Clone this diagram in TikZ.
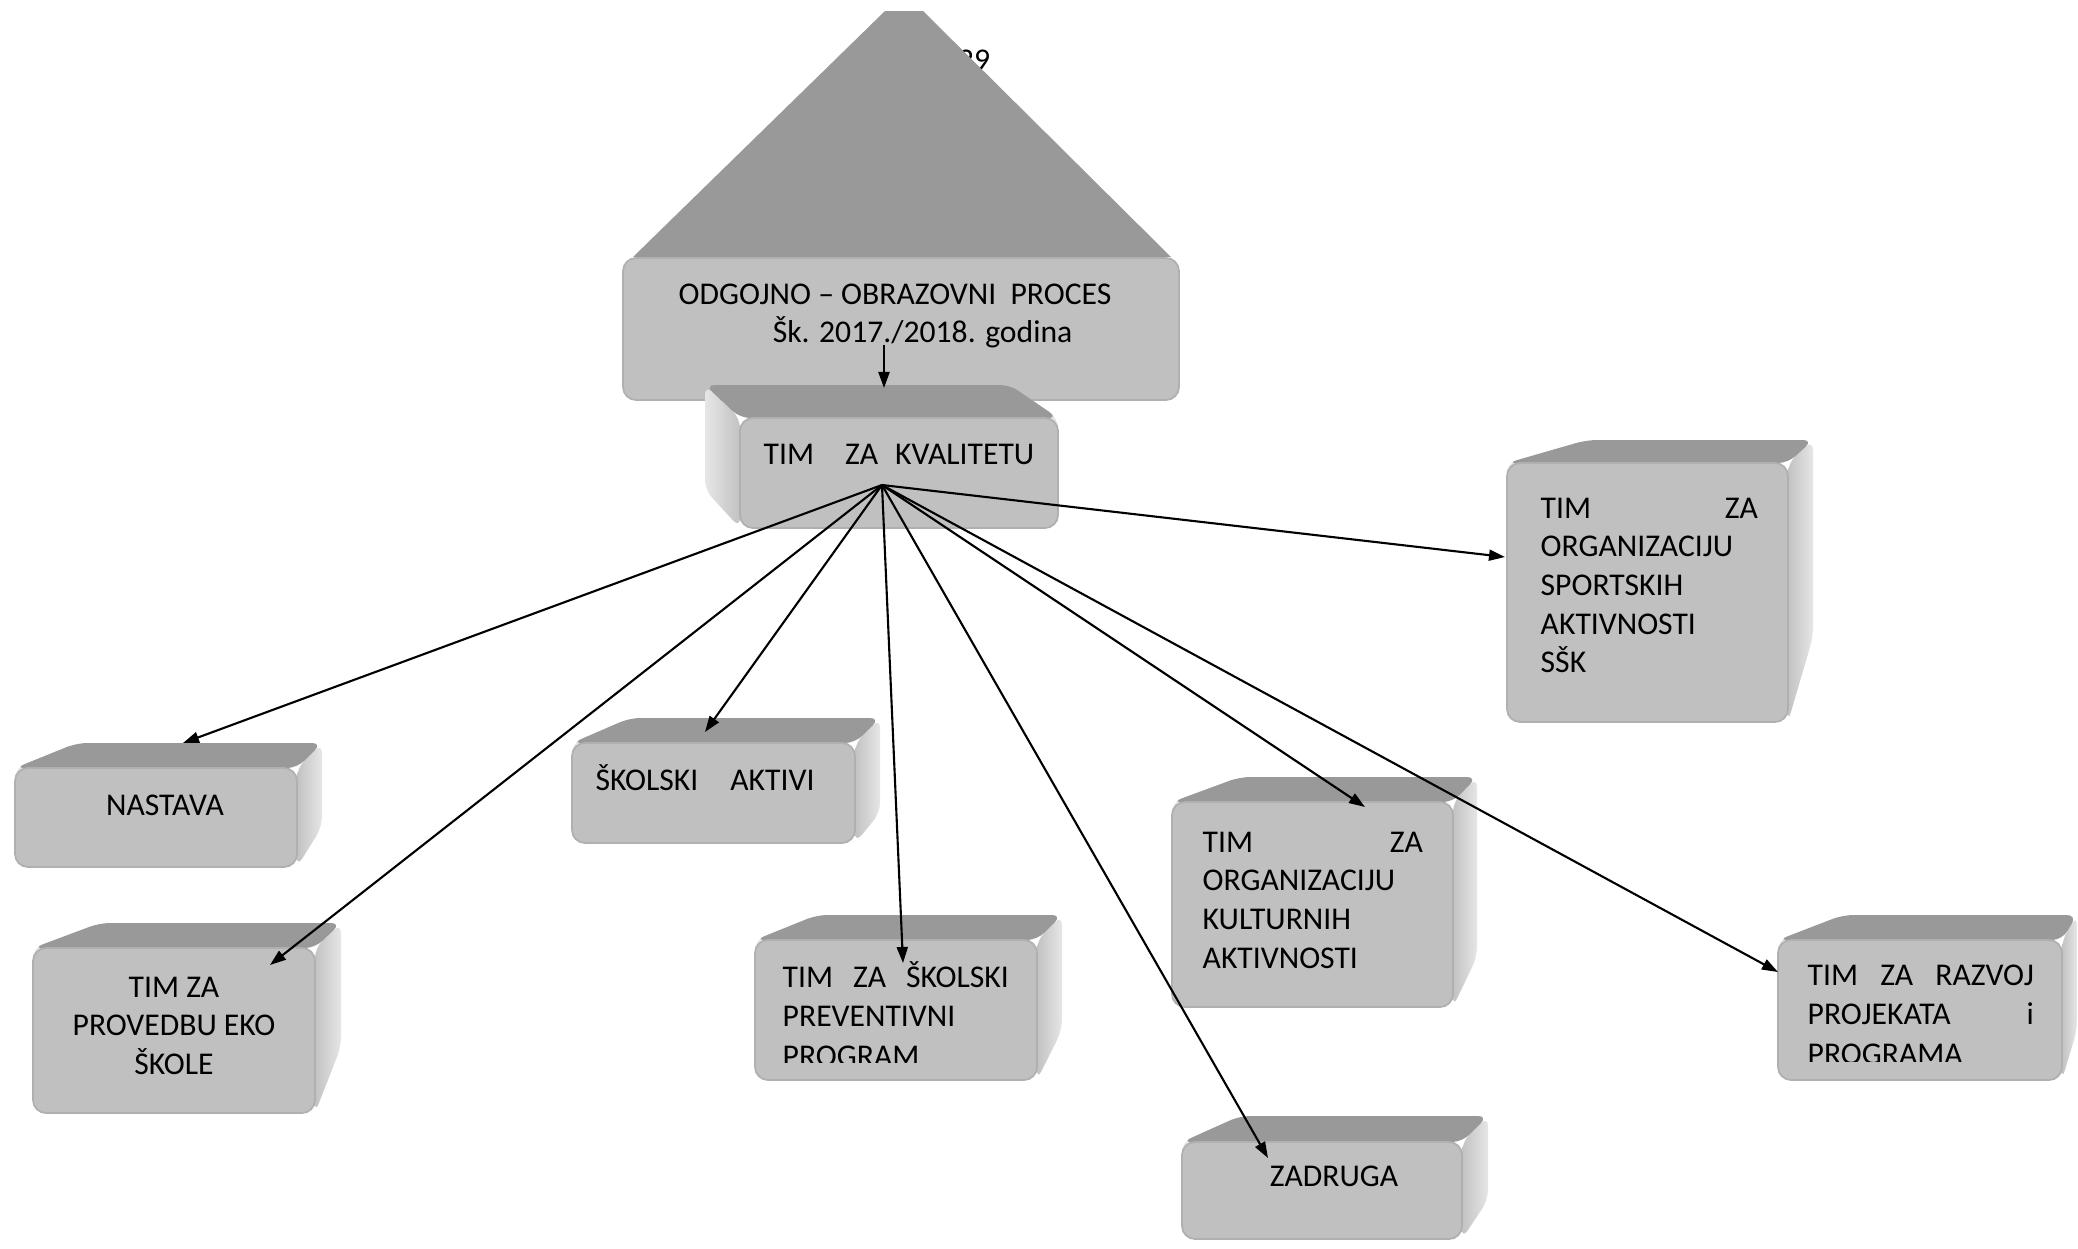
\documentclass[tikz,border=0pt]{standalone}
\usepackage{fontspec}
\setmainfont{Carlito}
\usetikzlibrary{arrows.meta,fit}
\definecolor{voorgrijs}{HTML}{C0C0C0}
\definecolor{bovengrijs}{HTML}{999999}
\definecolor{zijlicht}{HTML}{E6E6E6}
\definecolor{zijdonker}{HTML}{C2C2C2}
\definecolor{randgrijs}{HTML}{B0B0B0}
% kutija s dubinom: ime, prednja ploha (gore lijevo, dolje desno), straznja ploha (gore lijevo, dolje desno)
\newcommand{\blok}[5]{%
  \shade[lijevastrana] (#2) -- (#4) -- (#4 |- #5) -- (#2 |- #3) -- cycle;
  \shade[desnastrana] (#3 |- #2) -- (#5 |- #4) -- (#5) -- (#3) -- cycle;
  \fill[gornjastrana] (#2) -- (#4) -- (#5 |- #4) -- (#3 |- #2) -- cycle;
  \node[prednja, fit={(#2) (#3)}] (#1) {};
}
\begin{document}
\begin{tikzpicture}[x=0.01cm, y=-0.01cm,
  every node/.style={font=\fontsize{9}{11}\selectfont, inner sep=0pt},
  prednja/.style={fill=voorgrijs, draw=randgrijs, line width=0.5pt, rounded corners=0.13cm},
  gornjastrana/.style={fill=bovengrijs, rounded corners=0.1cm},
  lijevastrana/.style={left color=zijlicht, right color=zijdonker, rounded corners=0.1cm},
  desnastrana/.style={left color=zijdonker, right color=zijlicht, rounded corners=0.1cm},
  pijl/.style={-{Triangle[length=0.16cm,width=0.11cm]}, line width=0.6pt},
  tekst/.style={anchor=base west, align=flush left},
  odrezan/.style={font=\fontsize{9}{11.3}\selectfont}]
\useasboundingbox (0,0) rectangle (2078,1248);

% broj stranice iza krova
\node[anchor=base] (stranica) at (974,70) {29};

% odgojno-obrazovni proces
\fill[bovengrijs] (633,257) -- (885,11) -- (923,11) -- (1171,257) -- cycle;
\node[prednja, fit={(623,258) (1179,400)}] (proces) {};
\node[tekst, text width=5cm] (procestekst) at (678,304) {ODGOJNO – OBRAZOVNI\ \ PROCES\\\hspace*{0.94cm}Šk. 2017./2018. godina};

% timovi i aktivi
\blok{kvaliteta}{740,418}{1058,528}{705,385}{1010,490}
\node[tekst] (kvalitetatekst) at (763,464) {TIM\hspace{0.31cm}ZA\hspace{0.17cm}KVALITETU};

\blok{nastava}{15,768}{297,867}{77,743}{322,827}
\node[anchor=base] (nastavatekst) at (165,815) {NASTAVA};

\blok{eko}{33,948}{315,1113}{100,923}{341,1047}
\node[anchor=base, align=flush center, text width=2.6cm] (ekotekst) at (174,997) {TIM ZA\\PROVEDBU EKO\\ŠKOLE};

\blok{aktivi}{572,743}{855,843}{630,718}{880,813}
\node[tekst] (aktivitekst) at (595,790) {ŠKOLSKI\hspace{0.32cm}AKTIVI};

\blok{preventiva}{755,940}{1037,1080}{817,915}{1062,1030}
\begin{scope}
  \clip (760,940) rectangle (1030,1062);
  \node[tekst, odrezan, text width=2.26cm] (preventivatekst) at (782,987) {TIM\hfill ZA\hfill ŠKOLSKI\\PREVENTIVNI\\PROGRAM};
\end{scope}

\blok{kultura}{1172,802}{1453,1007}{1240,777}{1477,957}
\node[tekst, text width=2.2cm] (kulturatekst) at (1202,852) {TIM\hfill ZA\\ORGANIZACIJU\\KULTURNIH\\AKTIVNOSTI};

\blok{sport}{1507,463}{1788,722}{1587,440}{1813,637}
\node[tekst, text width=2.17cm] (sporttekst) at (1540,518) {TIM\hfill ZA\\ORGANIZACIJU\\SPORTSKIH\\AKTIVNOSTI\\SŠK};

\blok{razvoj}{1778,940}{2062,1080}{1843,915}{2077,1030}
\begin{scope}
  \clip (1785,940) rectangle (2055,1061);
  \node[tekst, odrezan, text width=2.26cm] (razvojtekst) at (1807,985) {TIM\hfill ZA\hfill RAZVOJ\\PROJEKATA\hfill i\\PROGRAMA};
\end{scope}

\blok{zadruga}{1182,1142}{1462,1239}{1240,1116}{1488,1200}
\node[anchor=base] (zadrugatekst) at (1334,1186) {ZADRUGA};

% ulazi strelica
\coordinate (procesizlaz) at (884,345);
\coordinate (kvalitetaulaz) at (884,388);
\coordinate (izvor) at (882,485);
\coordinate (nastavaulaz) at (183,743);
\coordinate (ekoulaz) at (270,965);
\coordinate (aktiviulaz) at (705,732);
\coordinate (preventivaulaz) at (903,963);
\coordinate (zadrugaulaz) at (1268,1158);
\coordinate (kulturaulaz) at (1365,807);
\coordinate (razvojulaz) at (1778,972);
\coordinate (sportulaz) at (1505,557);

\draw[pijl] (procesizlaz) -- (kvalitetaulaz);
\foreach \cilj in {nastava,eko,aktivi,preventiva,zadruga,kultura,razvoj,sport}
  \draw[pijl] (izvor) -- (\cilj ulaz);
\end{tikzpicture}
\end{document}
